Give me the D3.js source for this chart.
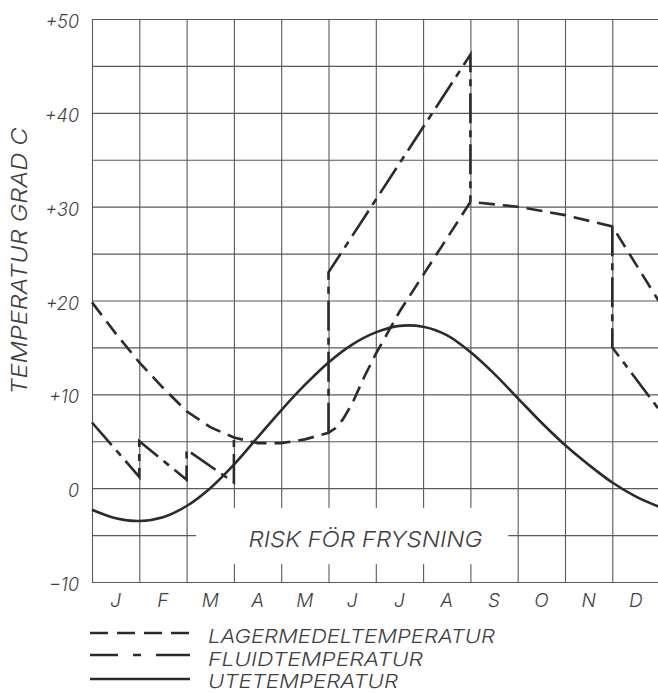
<!DOCTYPE html>
<html>
<head>
<meta charset="utf-8">
<script src="https://cdn.jsdelivr.net/npm/d3@7"></script>
<style>
  body { margin: 0; background: #fff; }
  svg text { font-family: Inter, "DejaVu Sans", sans-serif; font-style: italic; font-weight: 300; fill: #3f3f3f; }
</style>
</head>
<body>
<svg width="658" height="693"></svg>
<script>
// month columns and temperature ticks
var months = ["J", "F", "M", "A", "M", "J", "J", "A", "S", "O", "N", "D"];
var tempTicks = [-10, 0, 10, 20, 30, 40, 50];

// UTETEMPERATUR (solid)
var uteMonth = [0, 0.5, 1, 1.5, 2, 2.5, 3, 3.5, 4, 4.5, 5, 5.5, 6, 6.5, 7, 7.5, 8, 8.5, 9, 9.5, 10, 10.5, 11, 11.5, 12];
var uteTemp  = [-2.3, -3.2, -3.5, -3.1, -1.9, 0.0, 2.5, 5.4, 8.3, 11.0, 13.4, 15.3, 16.6, 17.3, 17.2, 16.3, 14.5, 12.2, 9.6, 7.0, 4.6, 2.5, 0.6, -0.9, -2.0];

// LAGERMEDELTEMPERATUR (dashed)
var lagerMonth = [0, 0.5, 1, 1.5, 2, 2.5, 3, 3.5, 4, 4.5, 5, 5.15, 5.3, 5.5, 5.75, 6, 6.5, 7, 7.5, 8, 9, 10, 11, 12];
var lagerTemp  = [19.8, 16.5, 13.4, 10.7, 8.2, 6.5, 5.4, 4.8, 4.8, 5.2, 5.9, 6.4, 7.3, 9.0, 11.8, 14.3, 18.8, 22.7, 26.6, 30.5, 30.0, 29.1, 27.9, 19.8];

// FLUIDTEMPERATUR (dash-dot), null = where it runs along the lager curve
var fluidMonth = [0, 1, 1, 2, 2, 3, 3, null, 5, 5, 8, 8, null, 11, 11, 12];
var fluidTemp  = [7.0, 1.2, 5.0, 0.9, 4.1, 0.6, 5.4, null, 5.9, 23.0, 46.2, 30.5, null, 27.9, 15.0, 8.3];

var legendNames = ["LAGERMEDELTEMPERATUR", "FLUIDTEMPERATUR", "UTETEMPERATUR"];

var svg = d3.select("svg");

var x = d3.scaleLinear().domain([0, 12]).range([92, 659.6]);
var y = d3.scaleLinear().domain([-10, 50]).range([582, 19]);
var xBand = d3.scaleBand().domain(d3.range(12)).range([92, 659.6]);

var ink = "#2b2b2b";

//------- grid
svg.append("g")
    .attr("transform", "translate(0," + y(-10) + ")")
    .call(d3.axisBottom(x).tickValues(d3.range(0, 13)).tickSize(-(y(-10) - y(50))).tickFormat(""));
svg.append("g")
    .attr("transform", "translate(" + x(0) + ",0)")
    .call(d3.axisLeft(y).tickValues(d3.range(-10, 51, 5)).tickSize(-(x(12) - x(0))).tickFormat(""));
svg.selectAll(".domain").remove();
svg.selectAll(".tick line").attr("stroke", "#5a5a5a").attr("stroke-width", 1.1);

// "risk för frysning" box cuts the grid open
svg.append("rect")
    .attr("x", x(2.2))
    .attr("y", y(-2.1))
    .attr("width", x(8.8) - x(2.2))
    .attr("height", y(-8.1) - y(-2.1))
    .attr("fill", "#fff");

svg.append("text")
    .attr("x", x(5.78))
    .attr("y", y(-6.3))
    .attr("text-anchor", "middle")
    .attr("textLength", 234)
    .attr("lengthAdjust", "spacingAndGlyphs")
    .style("font-size", "22px")
    .text("RISK FÖR FRYSNING");

//------- axis labels
svg.append("g")
    .attr("transform", "translate(" + x(0) + ",0)")
    .call(d3.axisLeft(y).tickValues(tempTicks).tickSize(0).tickPadding(13)
        .tickFormat(function(d) { return d > 0 ? "+" + d : (d < 0 ? "\u2212" + (-d) : "0"); }))
    .call(function(g) { g.select(".domain").remove(); })
    .selectAll("text")
        .attr("y", 8.5)
        .attr("dy", 0)
        .attr("font-family", null)
        .attr("font-size", null)
        .style("font-size", "18px");

svg.append("g")
    .attr("transform", "translate(0," + y(-10) + ")")
    .call(d3.axisBottom(xBand).tickSize(0).tickPadding(0).tickFormat(function(i) { return months[i]; }))
    .call(function(g) { g.select(".domain").remove(); })
    .selectAll("text")
        .attr("y", 25)
        .attr("dy", 0)
        .attr("font-family", null)
        .attr("font-size", null)
        .style("font-size", "19px");

svg.append("text")
    .attr("transform", "translate(27,261) rotate(-90)")
    .attr("text-anchor", "middle")
    .attr("textLength", 267)
    .attr("lengthAdjust", "spacingAndGlyphs")
    .style("font-size", "22px")
    .text("TEMPERATUR GRAD C");

//------- curves
function series(ms, ts) {
    return ms.map(function(m, i) { return { m: m, t: ts[i] }; });
}

var line = d3.line()
    .defined(function(d) { return d.t != null; })
    .x(function(d) { return x(d.m); })
    .y(function(d) { return y(d.t); });

var smooth = d3.line()
    .x(function(d) { return x(d.m); })
    .y(function(d) { return y(d.t); })
    .curve(d3.curveCatmullRom.alpha(0.5));

svg.append("path")
    .datum(series(lagerMonth, lagerTemp))
    .attr("d", line)
    .attr("fill", "none")
    .attr("stroke", ink)
    .attr("stroke-width", 2.6)
    .attr("stroke-dasharray", "16,8");

svg.append("path")
    .datum(series(fluidMonth, fluidTemp))
    .attr("d", line)
    .attr("fill", "none")
    .attr("stroke", ink)
    .attr("stroke-width", 2.6)
    .attr("stroke-dasharray", "30,7,7,7");

svg.append("path")
    .datum(series(uteMonth, uteTemp))
    .attr("d", smooth)
    .attr("fill", "none")
    .attr("stroke", ink)
    .attr("stroke-width", 2.6);

//------- legend
var legendY = [633, 655, 679];
var legendText = [643, 666, 688];
var legendLen = [287, 215, 190];
var legendDash = ["18,9", "28,15,8,15,40", null];

var leg = svg.append("g").attr("class", "legend");
legendNames.forEach(function(name, i) {
    leg.append("line")
        .attr("x1", 90).attr("x2", 190)
        .attr("y1", legendY[i]).attr("y2", legendY[i])
        .attr("stroke", ink)
        .attr("stroke-width", 2.4)
        .attr("stroke-dasharray", legendDash[i]);
    leg.append("text")
        .attr("x", 208)
        .attr("y", legendText[i])
        .attr("textLength", legendLen[i])
        .attr("lengthAdjust", "spacingAndGlyphs")
        .style("font-size", "19px")
        .text(name);
});
</script>
</body>
</html>
